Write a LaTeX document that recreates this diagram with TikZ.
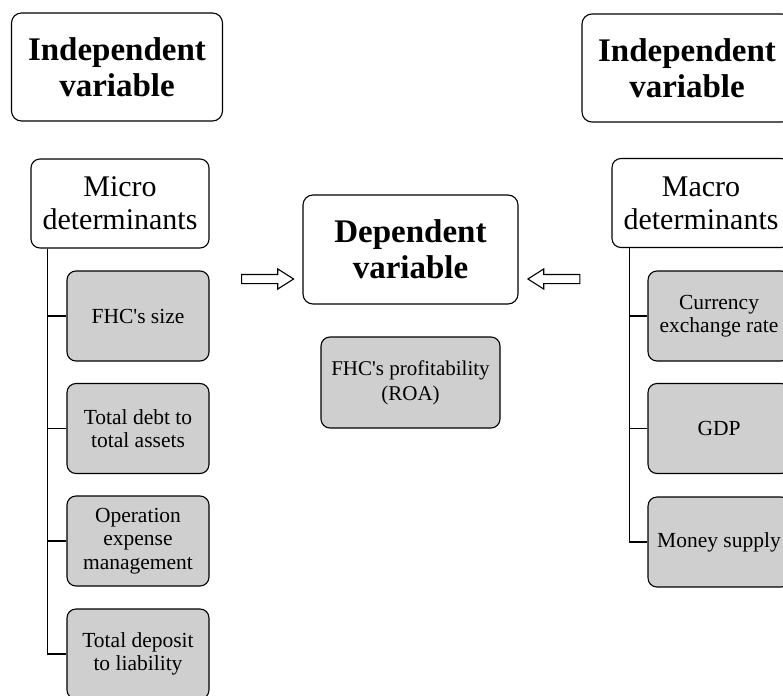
\documentclass[tikz,border=0pt]{standalone}
\usepackage{fontspec}
\setmainfont{Liberation Serif}
\usetikzlibrary{shapes.arrows}

\begin{document}
\begin{tikzpicture}[x=1pt,y=-1pt,
  headbox/.style={draw,line width=1.1pt,rounded corners=10pt,align=center,inner sep=0pt,
    minimum width=211pt,minimum height=108pt,font=\fontsize{33}{36}\selectfont\bfseries},
  groupbox/.style={draw,line width=1.1pt,rounded corners=9pt,align=center,inner sep=0pt,
    minimum width=178pt,minimum height=89pt,font=\fontsize{30}{33}\selectfont},
  itembox/.style={draw,fill=black!19,line width=1.1pt,rounded corners=9pt,align=center,inner sep=0pt,
    minimum width=142pt,minimum height=90pt,font=\fontsize{21.5}{23.5}\selectfont},
  tree/.style={line width=1.5pt},
  fatarrow/.style={single arrow,draw,line width=1.1pt,inner xsep=0pt,inner ysep=4pt,
    minimum height=52pt,single arrow head extend=5.5pt,single arrow tip angle=65}]
  \useasboundingbox (0,0) rectangle (783,695);
  \clip (0,0) rectangle (783,695);
  % left side: micro determinants
  \node[headbox] (indL) at (117,67) {Independent\\variable};
  \node[groupbox] (micro) at (120,203.5) {Micro\\determinants};
  \node[itembox] (s1) at (138,316) {FHC\textquotesingle s size};
  \node[itembox] (s2) at (138,428.5) {Total debt to\\total assets};
  \node[itembox] (s3) at (138,541) {Operation\\expense\\management};
  \node[itembox] (s4) at (138,654) {Total deposit\\to liability};
  \coordinate (mtrunk) at ([xshift=17pt]micro.south west);
  \draw[tree] (mtrunk) |- (s4.west);
  \foreach \i in {1,2,3} \draw[tree] (mtrunk |- s\i.west) -- (s\i.west);
  % middle: dependent variable
  \node[headbox,minimum width=215pt,minimum height=109pt] (dep) at (410.5,249.5) {Dependent\\variable};
  \node[itembox,minimum width=179pt,minimum height=91pt,font=\fontsize{21}{26}\selectfont] (roa) at (410.5,382.5) {\raisebox{-5pt}{\shortstack{FHC\textquotesingle s profitability\\[3pt](ROA)}}};
  \node[fatarrow] (arrL) at (264,279) {};
  \node[fatarrow,shape border rotate=180] (arrR) at (557.5,279) {};
  % right side: macro determinants
  \node[headbox,minimum width=210pt] (indR) at (687,68) {Independent\\variable};
  \node[groupbox] (macro) at (701,203) {Macro\\determinants};
  \node[itembox] (m1) at (719,316) {Currency\\exchange rate};
  \node[itembox] (m2) at (719,428.5) {GDP};
  \node[itembox] (m3) at (719,542) {Money supply};
  \coordinate (rtrunk) at ([xshift=18pt]macro.south west);
  \draw[tree] (rtrunk) |- (m3.west);
  \foreach \i in {1,2} \draw[tree] (rtrunk |- m\i.west) -- (m\i.west);
\end{tikzpicture}
\end{document}
